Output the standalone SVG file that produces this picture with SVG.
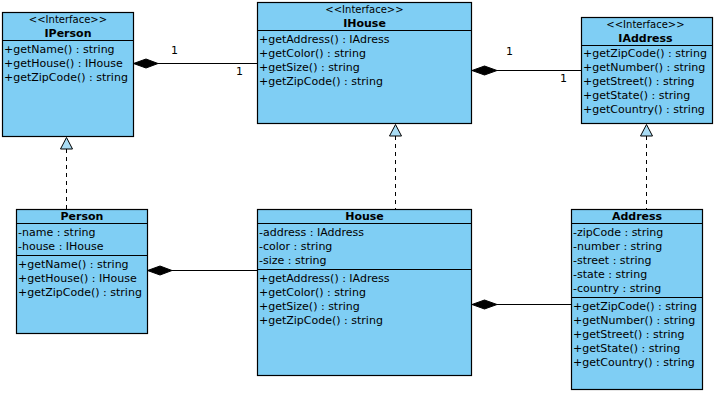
<svg xmlns="http://www.w3.org/2000/svg" width="721" height="401" viewBox="0 0 721 401">
<defs>
<style>
.box{fill:#7fcef4;stroke:#000;stroke-width:1.2}
.sep{stroke:#000;stroke-width:1.2}
text{font-family:"DejaVu Sans",sans-serif;font-size:11px;fill:#000}
.st{font-size:10px;text-anchor:middle}
.nm{font-weight:bold;text-anchor:middle}
.ln{stroke:#000;stroke-width:1.2;fill:none}
.dash{stroke:#000;stroke-width:1;stroke-dasharray:4,4;fill:none}
.dia{fill:#000;stroke:#000;stroke-width:1}
.tri{fill:#a9dcf4;stroke:#000;stroke-width:1}
</style>
</defs>
<rect width="721" height="401" fill="#fff"/>
<g id="connectors">
<line class="ln" x1="158" y1="63.5" x2="257.5" y2="63.5"/>
<polygon class="dia" points="133.5,63.5 146,59 158,63.5 146,68"/>
<text x="171" y="54">1</text>
<text x="236" y="75">1</text>
<line class="ln" x1="497" y1="70.5" x2="581.5" y2="70.5"/>
<polygon class="dia" points="472,70.5 484.5,66 497,70.5 484.5,75"/>
<text x="506" y="55">1</text>
<text x="560" y="82">1</text>
<line class="ln" x1="172" y1="270.5" x2="257.5" y2="270.5"/>
<polygon class="dia" points="147.5,270.5 160,266 172,270.5 160,275"/>
<line class="ln" x1="497" y1="304.5" x2="571.5" y2="304.5"/>
<polygon class="dia" points="472,304.5 484.5,300 497,304.5 484.5,309"/>
<line class="dash" x1="66.5" y1="149" x2="66.5" y2="209"/>
<polygon class="tri" points="66.5,137.5 60.5,149 72.5,149"/>
<line class="dash" x1="395.5" y1="136" x2="395.5" y2="209"/>
<polygon class="tri" points="395.5,124.5 389.5,136 401.5,136"/>
<line class="dash" x1="646.5" y1="136" x2="646.5" y2="209"/>
<polygon class="tri" points="646.5,124.5 640.5,136 652.5,136"/>
</g>
<g id="IPerson">
<rect class="box" x="2.5" y="12.5" width="131" height="124"/>
<line class="sep" x1="2.5" y1="40.5" x2="133.5" y2="40.5"/>
<text class="st" x="68" y="23">&lt;&lt;Interface&gt;&gt;</text>
<text class="nm" x="68" y="37">IPerson</text>
<text x="4" y="53">+getName() : string</text>
<text x="4" y="67">+getHouse() : IHouse</text>
<text x="4" y="81">+getZipCode() : string</text>
</g>
<g id="IHouse">
<rect class="box" x="257.5" y="2.5" width="214" height="121"/>
<line class="sep" x1="257.5" y1="30.5" x2="471.5" y2="30.5"/>
<text class="st" x="364.5" y="13">&lt;&lt;Interface&gt;&gt;</text>
<text class="nm" x="364.5" y="27">IHouse</text>
<text x="259" y="43">+getAddress() : IAdress</text>
<text x="259" y="57">+getColor() : string</text>
<text x="259" y="71">+getSize() : string</text>
<text x="259" y="85">+getZipCode() : string</text>
</g>
<g id="IAddress">
<rect class="box" x="581.5" y="17.5" width="131" height="106"/>
<line class="sep" x1="581.5" y1="45.5" x2="712.5" y2="45.5"/>
<text class="st" x="645.5" y="28">&lt;&lt;Interface&gt;&gt;</text>
<text class="nm" x="645.5" y="42">IAddress</text>
<text x="583" y="57">+getZipCode() : string</text>
<text x="583" y="71">+getNumber() : string</text>
<text x="583" y="85">+getStreet() : string</text>
<text x="583" y="99">+getState() : string</text>
<text x="583" y="113">+getCountry() : string</text>
</g>
<g id="Person">
<rect class="box" x="16.5" y="209.5" width="131" height="124"/>
<line class="sep" x1="16.5" y1="223.5" x2="147.5" y2="223.5"/>
<line class="sep" x1="16.5" y1="255.5" x2="147.5" y2="255.5"/>
<text class="nm" x="82" y="220">Person</text>
<text x="18" y="236">-name : string</text>
<text x="18" y="250">-house : IHouse</text>
<text x="18" y="268">+getName() : string</text>
<text x="18" y="282">+getHouse() : IHouse</text>
<text x="18" y="296">+getZipCode() : string</text>
</g>
<g id="House">
<rect class="box" x="257.5" y="209.5" width="214" height="166"/>
<line class="sep" x1="257.5" y1="223.5" x2="471.5" y2="223.5"/>
<line class="sep" x1="257.5" y1="269.5" x2="471.5" y2="269.5"/>
<text class="nm" x="364.5" y="220">House</text>
<text x="259" y="236">-address : IAddress</text>
<text x="259" y="250">-color : string</text>
<text x="259" y="264">-size : string</text>
<text x="259" y="282">+getAddress() : IAdress</text>
<text x="259" y="296">+getColor() : string</text>
<text x="259" y="310">+getSize() : string</text>
<text x="259" y="324">+getZipCode() : string</text>
</g>
<g id="Address">
<rect class="box" x="571.5" y="209.5" width="131" height="180"/>
<line class="sep" x1="571.5" y1="223.5" x2="702.5" y2="223.5"/>
<line class="sep" x1="571.5" y1="297.5" x2="702.5" y2="297.5"/>
<text class="nm" x="637" y="220">Address</text>
<text x="573" y="236">-zipCode : string</text>
<text x="573" y="250">-number : string</text>
<text x="573" y="264">-street : string</text>
<text x="573" y="278">-state : string</text>
<text x="573" y="292">-country : string</text>
<text x="573" y="310">+getZipCode() : string</text>
<text x="573" y="324">+getNumber() : string</text>
<text x="573" y="338">+getStreet() : string</text>
<text x="573" y="352">+getState() : string</text>
<text x="573" y="366">+getCountry() : string</text>
</g>
</svg>
